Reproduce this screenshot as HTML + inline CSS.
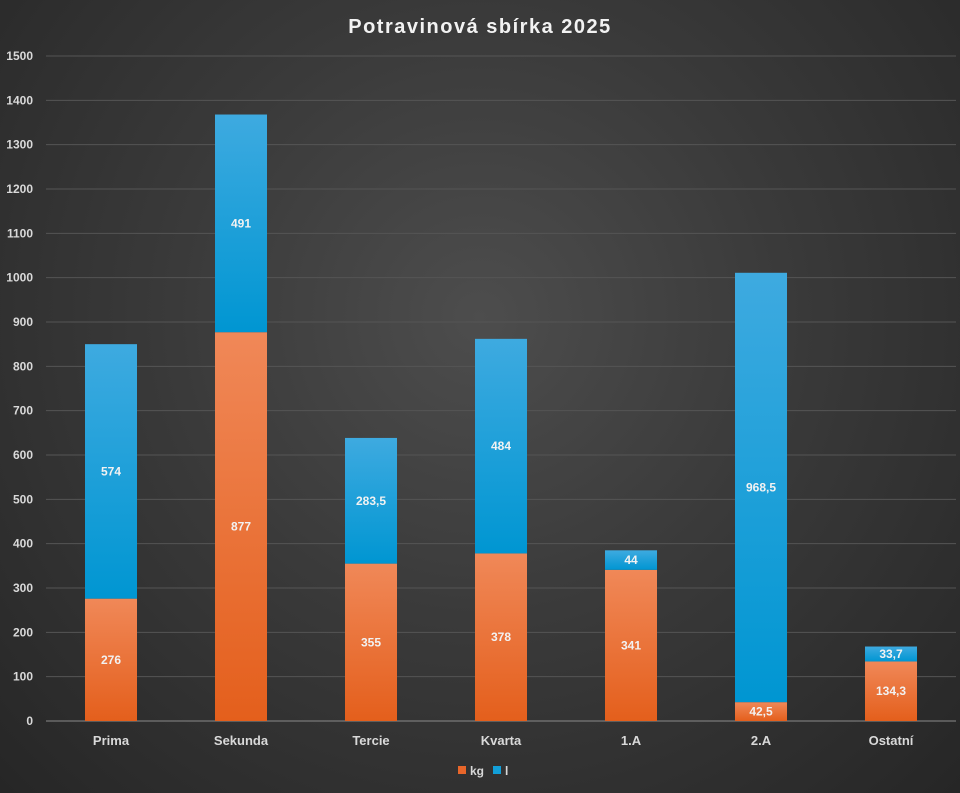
<!DOCTYPE html>
<html><head><meta charset="utf-8"><style>
html,body{margin:0;padding:0;width:960px;height:793px;overflow:hidden}
body{background:radial-gradient(ellipse at 50% 40%,#4d4d4d 0%,#3a3a3a 45%,#262626 100%);font-family:"Liberation Sans",sans-serif}
svg text{font-family:"Liberation Sans",sans-serif;font-weight:bold}
</style></head><body>
<svg id="chart" width="960" height="793" xmlns="http://www.w3.org/2000/svg">
<defs>
<linearGradient id="go" x1="0" y1="0" x2="0" y2="1"><stop offset="0" stop-color="#f08858"/><stop offset="1" stop-color="#e45f1c"/></linearGradient>
<linearGradient id="gb" x1="0" y1="0" x2="0" y2="1"><stop offset="0" stop-color="#3eaae0"/><stop offset="1" stop-color="#0096d2"/></linearGradient>
</defs>
<text x="480" y="33" text-anchor="middle" fill="#f2f2f2" font-size="20" letter-spacing="1.5">Potravinová sbírka 2025</text>
<g id="grid"></g><g id="bars"></g><g id="labels"></g>
<g>
<rect x="458" y="766" width="8" height="8" fill="#e8662a"/>
<text x="470" y="775" fill="#d9d9d9" font-size="12">kg</text>
<rect x="493" y="766" width="8" height="8" fill="#129fd8"/>
<text x="505" y="775" fill="#d9d9d9" font-size="12">l</text>
</g>
</svg>
<script>
const categories=["Prima","Sekunda","Tercie","Kvarta","1.A","2.A","Ostatní"];
const kgValues=[276,877,355,378,341,42.5,134.3];
const lValues=[574,491,283.5,484,44,968.5,33.7];
const yTicks=[0,100,200,300,400,500,600,700,800,900,1000,1100,1200,1300,1400,1500];
const NS="http://www.w3.org/2000/svg";
const L=46,R=956,Y0=721,Y1=56,YMAX=1500;
const band=(R-L)/categories.length,bw=52;
const y=v=>Y0-(v/YMAX)*(Y0-Y1);
const xc=i=>L+band*(i+0.5);
const fmt=v=>String(v).replace('.',',');
function mk(tag,attrs,parent,txt){const e=document.createElementNS(NS,tag);for(const k in attrs)e.setAttribute(k,attrs[k]);if(txt!==undefined)e.textContent=txt;parent.appendChild(e);return e;}
const grid=document.getElementById('grid'),bars=document.getElementById('bars'),labels=document.getElementById('labels');
yTicks.forEach(t=>{
  const ln=mk('line',{x1:L,x2:R,y1:y(t),y2:y(t),stroke:t===0?'#8a8a8a':'#555555','stroke-width':1},grid);
  
  
  const tx=mk('text',{x:33,y:y(t)+4,'text-anchor':'end',fill:'#d9d9d9','font-size':12},grid,String(t));
  
  
});
categories.forEach((c,i)=>{
  const x=xc(i)-bw/2;
  const yk=y(kgValues[i]);
  const r1=mk('rect',{x:x,y:yk,width:bw,height:Y0-yk,fill:'url(#go)'},bars);
  
  
  const yl=y(kgValues[i]+lValues[i]);
  const r2=mk('rect',{x:x,y:yl,width:bw,height:yk-yl,fill:'url(#gb)'},bars);
  
  
  const t1=mk('text',{x:xc(i),y:(yk+Y0)/2+4,'text-anchor':'middle',fill:'#f2f2f2','font-size':12},labels,fmt(kgValues[i]));
  
  
  const t2=mk('text',{x:xc(i),y:(yl+yk)/2+4,'text-anchor':'middle',fill:'#f2f2f2','font-size':12},labels,fmt(lValues[i]));
  
  
  const t3=mk('text',{x:xc(i),y:745,'text-anchor':'middle',fill:'#d9d9d9','font-size':13},labels,c);
  
  
});
</script>
</body></html>
